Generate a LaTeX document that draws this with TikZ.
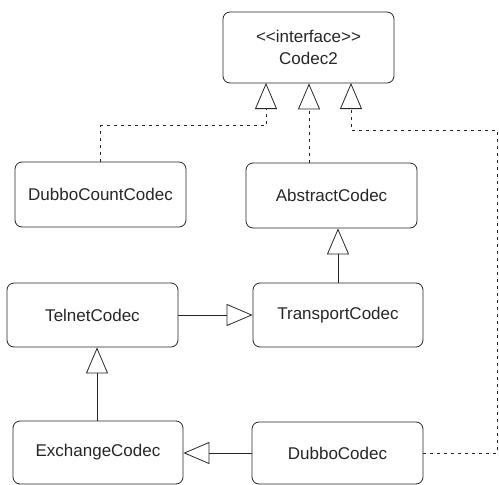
\documentclass[tikz,border=0pt]{standalone}
\usepackage{fontspec}
\setmainfont{Liberation Sans}
\usetikzlibrary{arrows.meta}
\begin{document}
\begin{tikzpicture}[x=1pt,y=-1pt,
  cls/.style={draw=black!85, line width=0.8pt, rounded corners=7pt, align=center,
    inner sep=0pt, font=\fontsize{17}{22}\selectfont, text=black!85},
  inh/.style={draw=black!85, line width=0.8pt, -{Triangle[open,length=26pt,width=22pt]}},
  real/.style={inh, dash pattern=on 3pt off 4pt}]
\useasboundingbox (0,0) rectangle (499,485);
\node[cls, minimum width=171pt, minimum height=71pt] (codec) at (308.5,47.5) {<\kern0pt<interface>\kern0pt>\\Codec2};
\node[cls, minimum width=171pt, minimum height=65pt] (dcc) at (100.5,194.5) {DubboCountCodec};
\node[cls, minimum width=171pt, minimum height=65pt] (abs) at (331.5,195.5) {AbstractCodec};
\node[cls, minimum width=171pt, minimum height=64pt] (tel) at (92.5,315) {TelnetCodec};
\node[cls, minimum width=170pt, minimum height=64pt] (tra) at (338,315) {TransportCodec};
\node[cls, minimum width=170pt, minimum height=63pt] (exc) at (98,452.5) {ExchangeCodec};
\node[cls, minimum width=171pt, minimum height=62pt] (dc) at (337.5,453) {DubboCodec};
\coordinate (c1) at (266,83);
\coordinate (c3) at (351,83);
\coordinate (rr) at (497,130);
\draw[real] (dcc.north) -- ++(0,-36) -| (c1);
\draw[real] (abs.north -| 309,0) -- (codec.south -| 309,0);
\draw[real] (dc.east) -| (rr) -| (c3);
\draw[inh] (tra.north) -- (abs.south -| tra.north);
\draw[inh] (tel.east) -- (tel.east -| tra.west);
\draw[inh] (exc.north -| 97,0) -- (tel.south -| 97,0);
\draw[inh] (dc.west) -- (dc.west -| exc.east);
\end{tikzpicture}
\end{document}
